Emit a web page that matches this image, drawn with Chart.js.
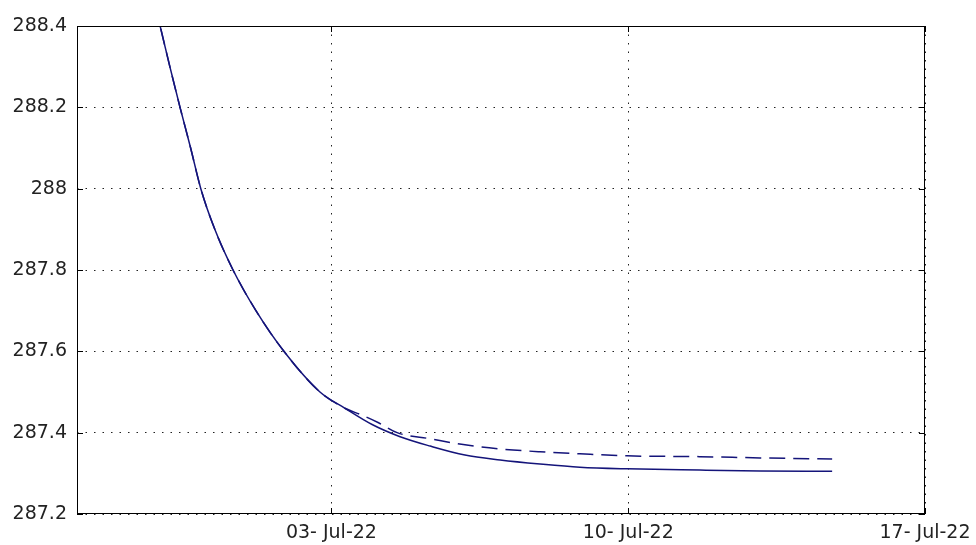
<!DOCTYPE html>
<html lang="en">
<head>
  <meta charset="UTF-8" />
  <title>Temperature decay</title>
  <script src="https://cdn.jsdelivr.net/npm/chart.js@4.4.1/dist/chart.umd.min.js"></script>
  <style>
    html, body {
      margin: 0;
      padding: 0;
      background: #fff;
    }
    .wrap {
      position: relative;
      width: 976px;
      height: 545px;
    }
  </style>
</head>
<body>
  <div class="wrap">
    <canvas id="chart"></canvas>
  </div>

  <script>
    // x = days since 27-Jun-22
    const solidDays   = [1.84, 1.96, 2.19, 2.43, 2.68, 2.92, 3.25, 3.68, 4.22, 4.88, 5.73, 6.32, 6.96, 7.62, 8.33, 9.15, 9.98, 10.92, 11.86, 12.97, 14.69, 16.11, 17.81];
    const solidValues = [288.45, 288.40, 288.30, 288.20, 288.10, 288.00, 287.90, 287.80, 287.70, 287.60, 287.50, 287.46, 287.42, 287.39, 287.367, 287.345, 287.333, 287.323, 287.315, 287.311, 287.308, 287.306, 287.305];

    const dashedDays   = [1.84, 1.96, 2.19, 2.43, 2.68, 2.92, 3.25, 3.68, 4.22, 4.88, 5.73, 6.32, 6.70, 7.10, 7.55, 8.33, 9.15, 9.98, 10.92, 11.86, 12.97, 14.69, 16.11, 17.81];
    const dashedValues = [288.45, 288.40, 288.30, 288.20, 288.10, 288.00, 287.90, 287.80, 287.70, 287.60, 287.50, 287.46, 287.444, 287.425, 287.40, 287.385, 287.37, 287.36, 287.353, 287.348, 287.343, 287.341, 287.338, 287.335];

    const xTickValues = [0, 6, 13, 20];
    const xTickLabels = ['', '03- Jul-22', '10- Jul-22', '17- Jul-22'];
    const yMin = 287.2, yMax = 288.4, yStep = 0.2;

    const lineColor = '#14147a';

    const toPoints = (xs, ys) => xs.map((x, i) => ({ x: x, y: ys[i] }));

    // box round the plot + small inward ticks, matlab style
    const frame = {
      id: 'frame',
      afterDraw(chart) {
        const { ctx, chartArea: a, scales } = chart;
        ctx.save();
        ctx.strokeStyle = '#000';
        ctx.lineWidth = 1;
        ctx.strokeRect(a.left + 0.5, a.top + 0.5, a.right - a.left - 1, a.bottom - a.top - 1);
        ctx.beginPath();
        scales.y.ticks.forEach(t => {
          const y = Math.round(scales.y.getPixelForValue(t.value)) + 0.5;
          ctx.moveTo(a.left, y); ctx.lineTo(a.left + 6, y);
          ctx.moveTo(a.right, y); ctx.lineTo(a.right - 6, y);
        });
        scales.x.ticks.forEach(t => {
          const x = Math.round(scales.x.getPixelForValue(t.value)) + 0.5;
          ctx.moveTo(x, a.bottom); ctx.lineTo(x, a.bottom - 6);
          ctx.moveTo(x, a.top); ctx.lineTo(x, a.top + 6);
        });
        ctx.stroke();
        ctx.restore();
      }
    };

    const tickFont = { family: "'DejaVu Sans', sans-serif", size: 19 };

    new Chart(document.getElementById('chart'), {
      type: 'line',
      data: {
        datasets: [
          {
            label: 'solid',
            data: toPoints(solidDays, solidValues),
            borderColor: lineColor,
            borderWidth: 1.5,
            pointRadius: 0,
            cubicInterpolationMode: 'monotone',
            fill: false
          },
          {
            label: 'dashed',
            data: toPoints(dashedDays, dashedValues),
            borderColor: lineColor,
            borderWidth: 1.5,
            borderDash: [16, 8],
            pointRadius: 0,
            cubicInterpolationMode: 'monotone',
            fill: false
          }
        ]
      },
      options: {
        responsive: true,
        maintainAspectRatio: false,
        animation: false,
        layout: { padding: { top: 26, right: 51, left: 0, bottom: 0 } },
        plugins: {
          legend: { display: false },
          tooltip: { enabled: false }
        },
        scales: {
          x: {
            type: 'linear',
            min: 0,
            max: 20,
            afterBuildTicks: s => { s.ticks = xTickValues.map(v => ({ value: v })); },
            afterFit: s => { s.height = 31; s.paddingLeft = 0; s.paddingRight = 0; },
            ticks: {
              color: '#222',
              font: tickFont,
              padding: 8,
              maxRotation: 0,
              autoSkip: false,
              callback: v => xTickLabels[xTickValues.indexOf(v)]
            },
            grid: { color: '#222', lineWidth: 1, drawTicks: false },
            border: { display: false, dash: [1.5, 7] }
          },
          y: {
            min: yMin,
            max: yMax,
            afterFit: s => { s.width = 77; },
            ticks: {
              stepSize: yStep,
              color: '#222',
              font: tickFont,
              padding: 10,
              callback: v => String(Number(v.toFixed(1)))
            },
            grid: { color: '#222', lineWidth: 1, drawTicks: false },
            border: { display: false, dash: [1.5, 7] }
          }
        }
      },
      plugins: [frame]
    });
  </script>
</body>
</html>
